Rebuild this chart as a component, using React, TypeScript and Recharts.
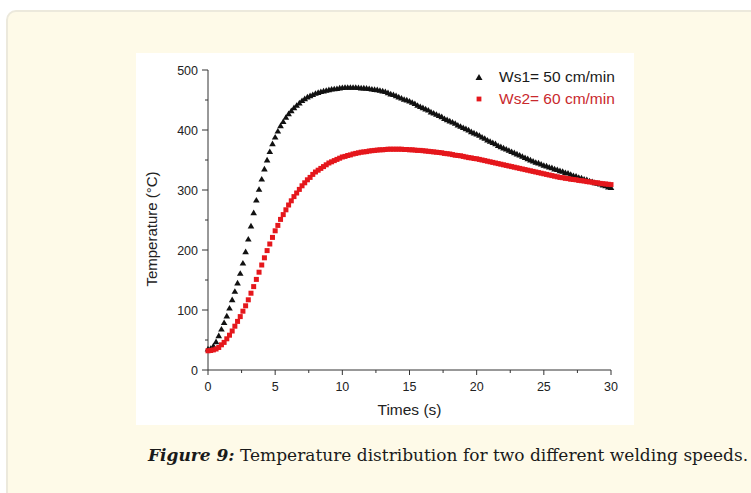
import { Label, Scatter, ScatterChart, XAxis, YAxis } from "recharts";

// sampled every 0.2 s
const times = [
  0, 0.2, 0.4, 0.6, 0.8, 1, 1.2, 1.4, 1.6, 1.8,
  2, 2.2, 2.4, 2.6, 2.8, 3, 3.2, 3.4, 3.6, 3.8,
  4, 4.2, 4.4, 4.6, 4.8, 5, 5.2, 5.4, 5.6, 5.8,
  6, 6.2, 6.4, 6.6, 6.8, 7, 7.2, 7.4, 7.6, 7.8,
  8, 8.2, 8.4, 8.6, 8.8, 9, 9.2, 9.4, 9.6, 9.8,
  10, 10.2, 10.4, 10.6, 10.8, 11, 11.2, 11.4, 11.6, 11.8,
  12, 12.2, 12.4, 12.6, 12.8, 13, 13.2, 13.4, 13.6, 13.8,
  14, 14.2, 14.4, 14.6, 14.8, 15, 15.2, 15.4, 15.6, 15.8,
  16, 16.2, 16.4, 16.6, 16.8, 17, 17.2, 17.4, 17.6, 17.8,
  18, 18.2, 18.4, 18.6, 18.8, 19, 19.2, 19.4, 19.6, 19.8,
  20, 20.2, 20.4, 20.6, 20.8, 21, 21.2, 21.4, 21.6, 21.8,
  22, 22.2, 22.4, 22.6, 22.8, 23, 23.2, 23.4, 23.6, 23.8,
  24, 24.2, 24.4, 24.6, 24.8, 25, 25.2, 25.4, 25.6, 25.8,
  26, 26.2, 26.4, 26.6, 26.8, 27, 27.2, 27.4, 27.6, 27.8,
  28, 28.2, 28.4, 28.6, 28.8, 29, 29.2, 29.4, 29.6, 29.8,
  30,
];

const ws1Temps = [
  35, 36, 40, 47, 57, 68, 79, 90, 103, 117,
  131, 145, 161, 178, 197, 218, 240, 262, 283, 301,
  318, 335, 350, 364, 377, 388, 398, 407, 414, 421,
  427, 432, 437, 441, 445, 449, 452, 455, 457, 459,
  461, 462.5, 464, 465, 466, 467, 468, 468.5, 469, 470,
  470.5, 471, 471, 471, 471, 471, 470.5, 470, 470, 469.5,
  469, 468, 467.5, 467, 466, 465, 464, 462, 460, 459,
  457, 455, 453, 451, 450, 448, 446, 444, 441, 439,
  437, 435, 433, 430, 428, 426, 424, 422, 419, 417,
  415, 413, 411, 408, 406, 404, 402, 400, 397, 395,
  393, 391, 388, 386, 383, 381, 379, 377, 374, 372,
  370, 368, 366, 364, 362, 360, 358, 356, 354, 352,
  350, 348, 346, 345, 343, 341, 340, 338, 337, 335,
  334, 332, 331, 329, 328, 326, 324, 323, 321, 320,
  318, 317, 315, 314, 312, 311, 310, 308, 307, 305,
  304,
];

const ws2Temps = [
  32, 32.5, 33.5, 35, 37.5, 42, 46, 52, 58, 65,
  73, 81, 89, 98, 107, 117, 128, 139, 151, 163,
  175, 187, 199, 210, 221, 232, 241, 251, 259, 267,
  275, 282, 289, 295, 301, 307, 312, 317, 321, 326,
  330, 333, 336, 339, 342, 345, 347, 349, 351, 353,
  355, 356, 357.5, 358.5, 360, 361, 362, 363, 363.5, 364,
  365, 365.5, 366, 366.5, 367, 367, 367.5, 368, 368, 368,
  368, 368, 368, 367.5, 367.5, 367, 367, 366.5, 366, 366,
  365.5, 365, 364.5, 364, 363.5, 363, 362.5, 362, 361, 360.5,
  360, 359, 358, 357.5, 357, 356, 355, 354, 353.5, 352.5,
  352, 351, 350, 349, 348, 347, 346, 345, 344, 343,
  342, 341, 340, 339, 338, 337, 336, 335, 334, 333,
  332, 331, 330, 329, 328, 327, 326, 325, 324, 323,
  322, 321, 320.5, 319.5, 319, 318, 317.5, 317, 316, 315.5,
  315, 314, 313.5, 313, 312, 312, 311, 310.5, 310, 309.5,
  309,
];

const xTicks = [0, 2.5, 5, 7.5, 10, 12.5, 15, 17.5, 20, 22.5, 25, 27.5, 30];
const yTicks = [0, 50, 100, 150, 200, 250, 300, 350, 400, 450, 500];

const ws1Name = "Ws1= 50 cm/min";
const ws2Name = "Ws2= 60 cm/min";

const ws1 = times.map((t, i) => ({ t, temp: ws1Temps[i] }));
const ws2 = times.map((t, i) => ({ t, temp: ws2Temps[i] }));

const AXIS = "#333";
const BLACK = "#111";
const RED = "#e5171c";
const FONT = "Arial, 'Liberation Sans', sans-serif";

function XTick({ x, y, payload }: any) {
  const major = payload.value % 5 === 0;
  return (
    <g>
      <line x1={x} x2={x} y1={y} y2={y + (major ? 5 : 3)} stroke={AXIS} />
      {major && (
        <text x={x} y={y + 21} textAnchor="middle" fontSize={12.5} fill="#222" fontFamily={FONT}>
          {payload.value}
        </text>
      )}
    </g>
  );
}

function YTick({ x, y, payload }: any) {
  const major = payload.value % 100 === 0;
  return (
    <g>
      <line x1={x} x2={x - (major ? 6 : 3)} y1={y} y2={y} stroke={AXIS} />
      {major && (
        <text x={x - 10} y={y + 4.5} textAnchor="end" fontSize={12.5} fill="#222" fontFamily={FONT}>
          {payload.value}
        </text>
      )}
    </g>
  );
}

function Triangle({ cx, cy }: any) {
  return <polygon points={`${cx},${cy - 3.2} ${cx - 3.3},${cy + 2.4} ${cx + 3.3},${cy + 2.4}`} fill={BLACK} />;
}

function Square({ cx, cy }: any) {
  return <rect x={cx - 2.5} y={cy - 2.5} width={5} height={5} fill={RED} />;
}

function XLabel({ viewBox }: any) {
  return (
    <text x={viewBox.x + viewBox.width / 2} y={viewBox.y + 45} textAnchor="middle" fontSize={15.5} fill="#222" fontFamily={FONT}>
      Times (s)
    </text>
  );
}

function YLabel({ viewBox }: any) {
  const cx = viewBox.x + 3;
  const cy = viewBox.y + viewBox.height / 2 + 9;
  return (
    <text x={cx} y={cy} transform={`rotate(-90, ${cx}, ${cy})`} textAnchor="middle" dominantBaseline="central" fontSize={15} fill="#222" fontFamily={FONT}>
      Temperature (°C)
    </text>
  );
}

export default function App() {
  return (
    <div style={{ position: "absolute", left: 0, top: 0, width: 751, height: 493, overflow: "hidden", background: "#fff" }}>
      <div
        style={{
          position: "absolute",
          left: 6,
          top: 10,
          width: 800,
          height: 520,
          background: "#fefae8",
          border: "2px solid #ece9dc",
          borderRadius: 10,
          boxSizing: "border-box",
        }}
      />
      <div style={{ position: "absolute", left: 136, top: 53, width: 498, height: 372, background: "#fff" }}>
        <ScatterChart width={498} height={372} margin={{ top: 17, right: 23, bottom: 25, left: 12 }}>
          <XAxis
            type="number"
            dataKey="t"
            domain={[0, 30]}
            ticks={xTicks}
            interval={0}
            height={30}
            tickSize={0}
            tickMargin={0}
            tick={<XTick />}
            axisLine={{ stroke: AXIS }}
          >
            <Label content={<XLabel />} />
          </XAxis>
          <YAxis
            type="number"
            dataKey="temp"
            domain={[0, 500]}
            ticks={yTicks}
            interval={0}
            width={60}
            tickSize={0}
            tickMargin={0}
            tick={<YTick />}
            axisLine={{ stroke: AXIS }}
          >
            <Label content={<YLabel />} />
          </YAxis>
          <Scatter name={ws1Name} data={ws1} shape={<Triangle />} isAnimationActive={false} />
          <Scatter name={ws2Name} data={ws2} shape={<Square />} isAnimationActive={false} />
        </ScatterChart>
        <div style={{ position: "absolute", left: 336, top: 13, fontFamily: FONT, fontSize: 15.5, lineHeight: "22px" }}>
          <div style={{ display: "flex", alignItems: "center", color: "#1a1a1a" }}>
            <svg width={14} height={22}>
              <polygon points="7,8 3.5,14 10.5,14" fill={BLACK} />
            </svg>
            <span style={{ marginLeft: 13 }}>{ws1Name}</span>
          </div>
          <div style={{ display: "flex", alignItems: "center", color: "#c9292d" }}>
            <svg width={14} height={22}>
              <rect x={4.6} y={8.6} width={4.8} height={4.8} fill={RED} />
            </svg>
            <span style={{ marginLeft: 13 }}>{ws2Name}</span>
          </div>
        </div>
      </div>
      <div
        style={{
          position: "absolute",
          left: 148,
          top: 445,
          fontFamily: "'DejaVu Serif', serif",
          fontSize: 17,
          color: "#1a1a1a",
          whiteSpace: "nowrap",
        }}
      >
        <b>
          <i>Figure 9:</i>
        </b>{" "}
        Temperature distribution for two different welding speeds.
      </div>
    </div>
  );
}
